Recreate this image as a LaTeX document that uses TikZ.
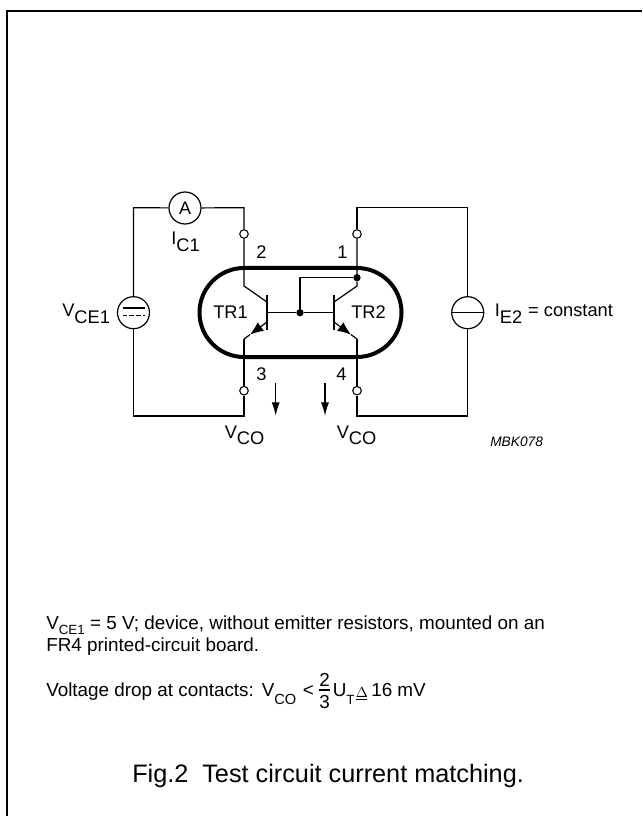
\documentclass[tikz,border=0pt]{standalone}
\usepackage{fontspec}
\setmainfont{Liberation Sans}
\usetikzlibrary{arrows.meta}
\newcommand{\lbl}[2]{#1\raisebox{-0.37em}{#2}}
\newcommand{\sbs}[1]{\raisebox{-0.3em}{\fontsize{10}{11}\selectfont #1}}
\tikzset{
  wire/.style={line width=0.9pt,line join=miter},
  frame/.style={line width=1.4pt},
  package/.style={line width=3pt},
  bar/.style={line width=2.2pt},
  src/.style={circle,draw,fill=white,line width=0.9pt,minimum size=24pt,inner sep=0pt},
  term/.style={circle,draw,fill=white,line width=0.8pt,minimum size=6.4pt,inner sep=0pt},
  jdot/.style={circle,fill=black,minimum size=5.5pt,inner sep=0pt},
  txt/.style={font=\fontsize{13.7}{15}\selectfont,inner sep=0pt,anchor=base west},
  note/.style={font=\fontsize{14.15}{16}\selectfont,inner sep=0pt,anchor=base west},
  emit/.style={line width=0.9pt,-{Latex[length=10pt,width=8pt]}},
  flow/.style={line width=0.8pt,-{Latex[length=10pt,width=6pt]}},
}
\begin{document}
\begin{tikzpicture}[x=0.75pt,y=-0.75pt]
\useasboundingbox (0,0) rectangle (642,816);
\draw[frame] (7,816) -- (7,11) -- (642,11);
% package
\draw[package] (244,268) -- (357,268) arc[start angle=-90,end angle=90,radius=44.5] -- (244,357) arc[start angle=90,end angle=270,radius=44.5] -- cycle;
% sources and terminals
\node[src] (am) at (185,208) {};
\node[font=\fontsize{13.5}{15}\selectfont,inner sep=0pt] (ama) at (185,208) {A};
\node[src] (vs) at (133.5,312.7) {};
\node[src] (is) at (467.7,312.7) {};
\node[term] (t2) at (244,234) {};
\node[term] (t1) at (357,234) {};
\node[term] (t3) at (244,390.7) {};
\node[term] (t4) at (357,390.7) {};
\node[jdot] (jb) at (300,312.7) {};
\node[jdot] (jc) at (357,277.7) {};
\coordinate (tl) at (133.5,207.7);
\coordinate (bl) at (133.5,416);
\coordinate (tra) at (244,207.7);
\coordinate (brb) at (244,416);
\coordinate (tr1) at (357,207.7);
\coordinate (tr2) at (467.7,207.7);
\coordinate (br1) at (357,416);
\coordinate (br2) at (467.7,416);
\coordinate (c1a) at (244,286);
\coordinate (c1b) at (267,302);
\coordinate (e1a) at (244,339);
\coordinate (e1b) at (267,322);
\coordinate (e1t) at (250,334.6);
\coordinate (c2a) at (357,286);
\coordinate (c2b) at (334,302);
\coordinate (e2a) at (357,339);
\coordinate (e2b) at (334,322);
\coordinate (e2t) at (351,334.6);
\coordinate (b1) at (267,312.7);
\coordinate (b2) at (334,312.7);
\coordinate (jup) at (300,277.7);
% outer loops
\draw[wire] (am) -- (tl) -- (vs);
\draw[wire] (vs) -- (bl) -- (brb) -- (t3);
\draw[wire] (am) -- (tra) -- (t2);
\draw[wire] (t1) -- (tr1) -- (tr2) -- (is);
\draw[wire] (is) -- (br2) -- (br1) -- (t4);
\draw[wire] (t2) -- (c1a) -- (c1b);
\draw[wire] (t1) -- (jc) -- (c2a) -- (c2b);
\draw[wire] (t3) -- (e1a);
\draw[wire] (t4) -- (e2a);
\draw[emit] (e1b) -- (e1t);
\draw[wire] (e1t) -- (e1a);
\draw[emit] (e2b) -- (e2t);
\draw[wire] (e2t) -- (e2a);
\draw[wire] (b1) -- (jb) -- (b2);
\draw[wire] (jb) -- (jup) -- (jc);
\draw[bar] (267,295) -- (267,330);
\draw[bar] (334,295) -- (334,330);
% source symbols
\draw[line width=1.2pt] (vs.center) ++(-11,-4.7) coordinate (p1) -- ++(22,0);
\draw[wire,dash pattern=on 3.2pt off 2pt] (vs.center) ++(-11,3) coordinate (p2) -- ++(22,0);
\draw[wire] (is.west) -- (is.east);
% current arrows
\coordinate (a1) at (275.7,383); \coordinate (a1e) at (275.7,415.7);
\coordinate (a2) at (325,383); \coordinate (a2e) at (325,415.7);
\draw[flow] (a1) -- (a1e);
\draw[flow] (a2) -- (a2e);
% labels
\node[txt] (l2) at (256,258) {2};
\node[txt] (l1) at (337,258) {1};
\node[txt] (l3) at (256,380) {3};
\node[txt] (l4) at (336,380) {4};
\node[txt] (ltr1) at (213,318) {TR1};
\node[txt] (ltr2) at (351,318) {TR2};
\node[txt] (lic) at (171,245) {\lbl{I}{C1}};
\node[txt] (lvce) at (62,316.7) {\lbl{V}{CE1}};
\node[txt] (lie) at (494.5,316.7) {\lbl{I}{E2}\hspace{0.05em} = constant};
\node[txt] (lvco1) at (224.5,438) {\lbl{V}{CO}};
\node[txt] (lvco2) at (336.5,438) {\lbl{V}{CO}};
\node[font=\itshape\fontsize{10.3}{12}\selectfont,inner sep=0pt,anchor=base west] (mbk) at (490,446) {MBK078};
\node[note] (n1) at (46,629) {V\sbs{CE1} = 5 V; device, without emitter resistors, mounted on an};
\node[note] (n2) at (46,651) {FR4 printed-circuit board.};
\node[note] (n3) at (46,696.7) {Voltage drop at contacts:};
\node[note] (n4) at (261.5,696.7) {V\raisebox{-0.4em}{\fontsize{11}{12}\selectfont CO}};
\node[note] (n4b) at (302.5,696.7) {<};
\node[note] (n5a) at (319,686) {2};
\node[note] (n5b) at (319,708) {3};
\coordinate (fa) at (319,690); \coordinate (fb) at (330,690);
\draw[line width=0.8pt] (fa) -- (fb);
\node[note] (n6) at (332.5,696.7) {U\raisebox{-0.4em}{\fontsize{10}{11}\selectfont T}};
\node[font=\fontsize{11}{12}\selectfont,inner sep=0pt,anchor=base west] (n7) at (355.5,697) {$\Delta$};
\coordinate (ua) at (356,699.5); \coordinate (ub) at (367,699.5);
\draw[line width=0.8pt] (ua) -- (ub);
\node[note] (n8) at (371,696.7) {16 mV};
\node[font=\fontsize{18.95}{22}\selectfont,inner sep=0pt,anchor=base west] (cap) at (132,782.7) {Fig.2\hspace{0.55em}Test circuit current matching.};
\end{tikzpicture}
\end{document}
